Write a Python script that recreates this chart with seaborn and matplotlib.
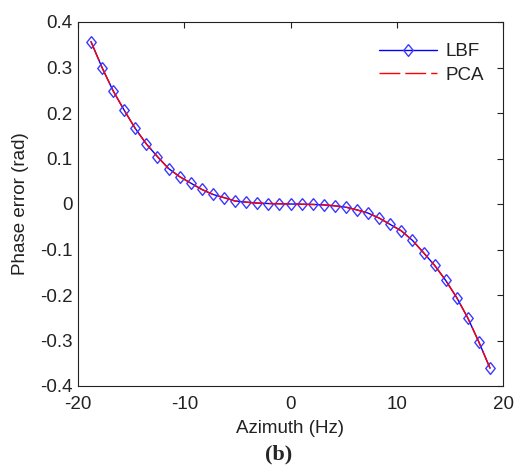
import numpy as np
import pandas as pd
import matplotlib
matplotlib.use("Agg")
import matplotlib.pyplot as plt
import seaborn as sns

# Azimuth frequency samples (Hz)
azimuth = [-18.78, -17.74, -16.70, -15.65, -14.61, -13.57, -12.52, -11.48, -10.43,
           -9.39, -8.35, -7.30, -6.26, -5.22, -4.17, -3.13, -2.09, -1.04, 0.0,
           1.04, 2.09, 3.13, 4.17, 5.22, 6.26, 7.30, 8.35, 9.39, 10.43,
           11.48, 12.52, 13.57, 14.61, 15.65, 16.70, 17.74, 18.78]
# Phase error (rad) for LBF
lbf = [0.357, 0.300, 0.249, 0.206, 0.166, 0.132, 0.104, 0.078, 0.060,
       0.046, 0.032, 0.021, 0.014, 0.0066, 0.004, 0.002, 0.001, 0.0005, 0.0,
       -0.0005, -0.001, -0.002, -0.004, -0.007, -0.013, -0.020, -0.031, -0.045, -0.059,
       -0.080, -0.107, -0.135, -0.168, -0.206, -0.251, -0.304, -0.361]
# Phase error (rad) for PCA
pca = [0.357, 0.300, 0.249, 0.206, 0.166, 0.132, 0.104, 0.078, 0.060,
       0.046, 0.032, 0.021, 0.014, 0.0066, 0.004, 0.002, 0.001, 0.0005, 0.0,
       -0.0005, -0.001, -0.002, -0.004, -0.007, -0.013, -0.020, -0.031, -0.045, -0.059,
       -0.080, -0.107, -0.135, -0.168, -0.206, -0.251, -0.304, -0.361]

x_ticks = [-20, -10, 0, 10, 20]
y_ticks = [-0.4, -0.3, -0.2, -0.1, 0, 0.1, 0.2, 0.3, 0.4]
y_labels = ["-0.4", "-0.3", "-0.2", "-0.1", "0", "0.1", "0.2", "0.3", "0.4"]

df = pd.DataFrame({"Azimuth": azimuth, "LBF": lbf, "PCA": pca})

sns.set_style("white")
plt.rcParams["font.family"] = ["Liberation Sans", "DejaVu Sans"]

FS = 13.5
fig = plt.figure(figsize=(5.16, 4.66), dpi=100)
ax = fig.add_axes([78 / 516, 1 - 386 / 466, 425 / 516, 364 / 466])

diamond = [(0, 1), (0.8, 0), (0, -1), (-0.8, 0), (0, 1)]
sns.lineplot(data=df, x="Azimuth", y="LBF", ax=ax, color="#0000ff", lw=1.0,
             marker=diamond, markersize=8.5, markerfacecolor="none",
             markeredgecolor="#3a3aff", markeredgewidth=1.0, label="LBF")
sns.lineplot(data=df, x="Azimuth", y="PCA", ax=ax, color="#ff0000", lw=1.0,
             label="PCA")
ax.lines[-1].set_linestyle((0, (15, 3.6)))

ax.set_xlim(-20, 20)
ax.set_ylim(-0.4, 0.4)
ax.set_xticks(x_ticks)
ax.set_xticklabels([str(t) for t in x_ticks])
ax.set_yticks(y_ticks)
ax.set_yticklabels(y_labels)
ax.tick_params(axis="both", direction="in", top=True, right=True, length=4,
               width=0.8, labelsize=FS, colors="#222222")
ax.tick_params(axis="x", pad=7)
ax.tick_params(axis="y", pad=4)
for s in ax.spines.values():
    s.set_color("#222222")
    s.set_linewidth(0.8)

ax.set_xlabel("Azimuth (Hz)", fontsize=FS, labelpad=5, color="#222222")
ax.set_ylabel("Phase error (rad)", fontsize=FS, labelpad=8, color="#222222")

leg = ax.legend(loc="upper right", bbox_to_anchor=(0.973, 0.963), frameon=False,
                fontsize=FS, handlelength=3.1, handletextpad=0.45,
                borderaxespad=0.0, labelspacing=0.35)
for t in leg.get_texts():
    t.set_color("#222222")

fig.text(279 / 516, 1 - 454 / 466, "(b)", ha="center", va="center", fontsize=16,
         fontweight="bold", family=["Liberation Serif", "DejaVu Serif"])

fig.savefig("out.png", dpi=100)
